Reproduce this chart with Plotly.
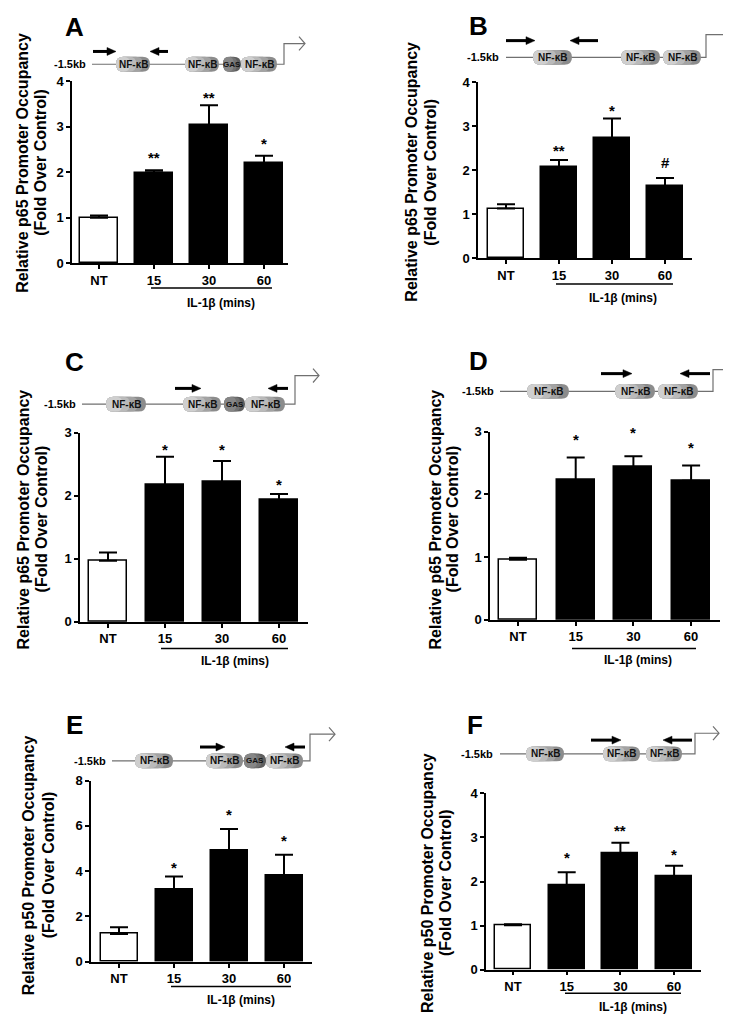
import plotly.graph_objects as go

W, H = 731, 1015
FONT = "Arial, Liberation Sans, Helvetica, sans-serif"

categories = ["NT", "15", "30", "60"]
x_pos = [0, 1, 2, 3]

# ---- data ----
a_vals = [1.00, 1.99, 3.03, 2.19]
a_sem = [0.05, 0.05, 0.44, 0.17]
a_marks = ["**", "**", "*"]
a_mark_y = [2.38, 3.71, 2.69]

b_vals = [1.13, 2.07, 2.73, 1.63]
b_sem = [0.10, 0.16, 0.44, 0.19]
b_marks = ["**", "*", "#"]
b_mark_y = [2.51, 3.42, 2.18]

c_vals = [0.97, 2.17, 2.22, 1.93]
c_sem = [0.13, 0.45, 0.33, 0.10]
c_marks = ["*", "*", "*"]
c_mark_y = [2.78, 2.78, 2.23]

d_vals = [0.96, 2.23, 2.44, 2.22]
d_sem = [0.03, 0.36, 0.17, 0.24]
d_marks = ["*", "*", "*"]
d_mark_y = [2.93, 3.04, 2.79]

e_vals = [1.23, 3.17, 4.92, 3.82]
e_sem = [0.30, 0.59, 0.94, 0.90]
e_marks = ["*", "*", "*"]
e_mark_y = [4.31, 6.63, 5.50]

f_vals = [1.01, 1.92, 2.63, 2.12]
f_sem = [0.02, 0.29, 0.25, 0.24]
f_marks = ["*", "**", "*"]
f_mark_y = [2.61, 3.22, 2.68]

p65_title = ["Relative p65 Promoter Occupancy", "(Fold Over Control)"]
p50_title = ["Relative p50 Promoter Occupancy", "(Fold Over Control)"]
x_group_label = "IL-1β (mins)"

# ---- layout geometry (pixels) ----
panels = [
    dict(letter="A", vals=a_vals, sem=a_sem, marks=a_marks, mark_y=a_mark_y, title=p65_title,
         L=64, R=280, top=67, bot=252, ymax=4, dtick=1, c0=91, s=55, w=38,
         tx=(15, 33), ty=150, lx=66, ly=12, ul=(143, 264, 277), gl=(213, 292),
         dg=dict(line_y=50, lab_r=80, x0=84, x1=276, bend=29, tip=297,
                 ovals=[("NF", 108, 142), ("NF", 177, 211), ("GAS", 215, 233), ("NF", 233, 269)],
                 primers=[(85, 108, 37), (160, 142, 37)])),
    dict(letter="B", vals=b_vals, sem=b_sem, marks=b_marks, mark_y=b_mark_y, title=p65_title,
         L=470, R=684, top=68, bot=247, ymax=4, dtick=1, c0=498, s=53, w=36,
         tx=(404, 423), ty=159, lx=471, ly=11, ul=(548, 665, 273), gl=(615, 287),
         dg=dict(line_y=43, lab_r=493, x0=498, x1=698, bend=20, tip=724,
                 ovals=[("NF", 525, 564), ("NF", 613, 652), ("NF", 655, 693)],
                 primers=[(498, 527, 26), (590, 562, 26)])),
    dict(letter="C", vals=c_vals, sem=c_sem, marks=c_marks, mark_y=c_mark_y, title=p65_title,
         L=72, R=300, top=424, bot=616, ymax=3, dtick=1, c0=100, s=57, w=38,
         tx=(15, 33), ty=512, lx=66, ly=352, ul=(153, 280, 643), gl=(227, 656),
         dg=dict(line_y=395, lab_r=70, x0=74, x1=287, bend=366, tip=311,
                 ovals=[("NF", 98, 138), ("NF", 175, 213), ("GAS", 216, 237), ("NF", 237, 277)],
                 primers=[(167, 193, 379), (280, 260, 379)])),
    dict(letter="D", vals=d_vals, sem=d_sem, marks=d_marks, mark_y=d_mark_y, title=p65_title,
         L=482, R=712, top=423, bot=614, ymax=3, dtick=1, c0=510, s=57.7, w=38,
         tx=(427, 444), ty=512, lx=471, ly=351, ul=(564, 688, 643), gl=(630, 655),
         dg=dict(line_y=382, lab_r=488, x0=492, x1=705, bend=360, tip=729,
                 ovals=[("NF", 519, 561), ("NF", 607, 647), ("NF", 650, 690)],
                 primers=[(593, 624, 364), (702, 672, 364)])),
    dict(letter="E", vals=e_vals, sem=e_sem, marks=e_marks, mark_y=e_mark_y, title=p50_title,
         L=83, R=304, top=777, bot=961, ymax=8, dtick=2, c0=111, s=55, w=37,
         tx=(20, 40), ty=863, lx=66, ly=721, ul=(163, 283, 986), gl=(233, 1000),
         dg=dict(line_y=757, lab_r=100, x0=104, x1=302, bend=730, tip=327,
                 ovals=[("NF", 127, 165), ("NF", 198, 235), ("GAS", 236, 258), ("NF", 258, 295)],
                 primers=[(192, 217, 743), (297, 277, 743)])),
    dict(letter="F", vals=f_vals, sem=f_sem, marks=f_marks, mark_y=f_mark_y, title=p50_title,
         L=478, R=693, top=790, bot=969, ymax=4, dtick=1, c0=505, s=53.7, w=36,
         tx=(420, 438), ty=881, lx=467, ly=721, ul=(557, 673, 993), gl=(625, 1007),
         dg=dict(line_y=750, lab_r=487, x0=492, x1=687, bend=729, tip=711,
                 ovals=[("NF", 518, 556), ("NF", 595, 632), ("NF", 638, 674)],
                 primers=[(583, 613, 736), (684, 655, 736)])),
]


def X(px):
    return px / W


def Y(py):
    return 1 - py / H


def rrect(x0, x1, yc, h):
    r = h / 2.0
    r = min(r, (x1 - x0) / 2.0)
    t, b = yc - h / 2.0, yc + h / 2.0
    pts = (f"M{X(x0 + r)},{Y(t)} L{X(x1 - r)},{Y(t)} Q{X(x1)},{Y(t)} {X(x1)},{Y(yc)} "
           f"Q{X(x1)},{Y(b)} {X(x1 - r)},{Y(b)} L{X(x0 + r)},{Y(b)} Q{X(x0)},{Y(b)} {X(x0)},{Y(yc)} "
           f"Q{X(x0)},{Y(t)} {X(x0 + r)},{Y(t)} Z")
    return pts


fig = go.Figure()
shapes = []
annotations = []
layout_axes = {}

for i, p in enumerate(panels, start=1):
    xa = "x" if i == 1 else f"x{i}"
    ya = "y" if i == 1 else f"y{i}"
    xr0 = (p["L"] - p["c0"]) / p["s"]
    xr1 = (p["R"] - p["c0"]) / p["s"]
    bw = p["w"] / p["s"]

    fig.add_trace(go.Bar(
        x=x_pos, y=p["vals"], width=bw, xaxis=xa, yaxis=ya,
        marker=dict(color=["white", "black", "black", "black"], line=dict(color="black", width=1.5)),
        error_y=dict(type="data", symmetric=False, array=p["sem"], arrayminus=[0, 0, 0, 0],
                     color="black", thickness=2, width=9),
        hoverinfo="skip",
    ))

    # significance marks (y in axis-domain fraction derived from data value)
    for xv, mk, my in zip(x_pos[1:], p["marks"], p["mark_y"]):
        annotations.append(dict(text=mk, xref=xa, yref=f"{ya} domain", x=xv, y=my / p["ymax"],
                                yshift=-3 if mk.startswith("*") else 0,
                                showarrow=False, xanchor="center", yanchor="middle",
                                font=dict(family=FONT, size=15, color="black", weight="bold")))

    axname_x = "xaxis" if i == 1 else f"xaxis{i}"
    axname_y = "yaxis" if i == 1 else f"yaxis{i}"
    layout_axes[axname_x] = dict(
        domain=[X(p["L"]), X(p["R"])], range=[xr0, xr1], anchor=ya,
        tickvals=x_pos, ticktext=categories, showline=True, linecolor="black", linewidth=1.5,
        ticks="outside", ticklen=4, tickwidth=1.5, tickcolor="black",
        tickfont=dict(family=FONT, size=13, color="black", weight="bold"),
        showgrid=False, zeroline=False, fixedrange=True,
    )
    layout_axes[axname_y] = dict(
        domain=[Y(p["bot"]), Y(p["top"])], range=[0, p["ymax"]], anchor=xa,
        tickmode="linear", tick0=0, dtick=p["dtick"], showline=True, linecolor="black", linewidth=1.5,
        ticks="outside", ticklen=4, tickwidth=1.5, tickcolor="black",
        tickfont=dict(family=FONT, size=13, color="black", weight="bold"),
        showgrid=False, zeroline=False, fixedrange=True,
    )

    # underline for IL-1b group
    ux0, ux1, uy = p["ul"]
    shapes.append(dict(type="line", xref="paper", yref="paper", x0=X(ux0), x1=X(ux1),
                       y0=Y(uy), y1=Y(uy), line=dict(color="black", width=1.5)))
    annotations.append(dict(text=x_group_label, xref="paper", yref="paper", x=X(p["gl"][0]), y=Y(p["gl"][1]),
                            showarrow=False, xanchor="center", yanchor="middle",
                            font=dict(family=FONT, size=12, color="black", weight="bold")))

    # y titles
    for k in range(2):
        annotations.append(dict(text=p["title"][k], xref="paper", yref="paper", x=X(p["tx"][k]), y=Y(p["ty"]),
                                textangle=-90, showarrow=False, xanchor="center", yanchor="middle",
                                font=dict(family=FONT, size=16, color="black", weight="bold")))
    # panel letter
    annotations.append(dict(text=p["letter"], xref="paper", yref="paper", x=X(p["lx"]), y=Y(p["ly"]),
                            showarrow=False, xanchor="center", yanchor="middle",
                            font=dict(family=FONT, size=26, color="black", weight="bold")))

    # promoter diagram
    d = p["dg"]
    ly_ = d["line_y"]
    annotations.append(dict(text="-1.5kb", xref="paper", yref="paper", x=X(d["lab_r"]), y=Y(ly_),
                            showarrow=False, xanchor="right", yanchor="middle",
                            font=dict(family=FONT, size=11, color="black", weight="bold")))
    line_style = dict(color="#707070", width=1.2)
    shapes.append(dict(type="path", xref="paper", yref="paper",
                       path=f"M{X(d['x0'])},{Y(ly_)} L{X(d['x1'])},{Y(ly_)} L{X(d['x1'])},{Y(d['bend'])} L{X(d['tip'])},{Y(d['bend'])}",
                       line=line_style))
    shapes.append(dict(type="path", xref="paper", yref="paper",
                       path=f"M{X(d['tip'] - 6)},{Y(d['bend'] - 7)} L{X(d['tip'])},{Y(d['bend'])} L{X(d['tip'] - 6)},{Y(d['bend'] + 7)}",
                       line=line_style))
    oh = 15
    for kind, ox0, ox1 in d["ovals"]:
        wd = ox1 - ox0
        if kind == "GAS":
            layers = [(1.0, "#5e5e5e"), (0.8, "#727272"), (0.6, "#868686")]
        else:
            layers = [(1.0, "#8c8c8c"), (0.8, "#a3a3a3"), (0.6, "#bababa"), (0.42, "#cfcfcf")]
        for frac, col in layers:
            shapes.append(dict(type="path", xref="paper", yref="paper",
                               path=rrect(ox0, ox0 + wd * frac, ly_, oh),
                               fillcolor=col, line=dict(width=0)))
        if kind == "GAS":
            annotations.append(dict(text="GAS", xref="paper", yref="paper", x=X((ox0 + ox1) / 2), y=Y(ly_),
                                    showarrow=False, xanchor="center", yanchor="middle",
                                    font=dict(family=FONT, size=8, color="#111111", weight="bold")))
        else:
            annotations.append(dict(text="NF-κB", xref="paper", yref="paper", x=X((ox0 + ox1) / 2), y=Y(ly_),
                                    showarrow=False, xanchor="center", yanchor="middle",
                                    font=dict(family=FONT, size=10, color="#111111", weight="bold")))
    for tail, head, py in d["primers"]:
        sgn = 1 if head > tail else -1
        hl = 9
        shapes.append(dict(type="line", xref="paper", yref="paper", x0=X(tail), x1=X(head - sgn * hl + sgn * 1),
                           y0=Y(py), y1=Y(py), line=dict(color="black", width=3)))
        shapes.append(dict(type="path", xref="paper", yref="paper",
                           path=f"M{X(head)},{Y(py)} L{X(head - sgn * hl)},{Y(py - 4)} L{X(head - sgn * hl)},{Y(py + 4)} Z",
                           fillcolor="black", line=dict(color="black", width=0.5)))

fig.update_layout(
    width=W, height=H, margin=dict(l=0, r=0, t=0, b=0),
    paper_bgcolor="white", plot_bgcolor="white", showlegend=False,
    font=dict(family=FONT, color="black"),
    bargap=0, shapes=shapes, annotations=annotations, **layout_axes,
)

fig.write_html("out.html")
